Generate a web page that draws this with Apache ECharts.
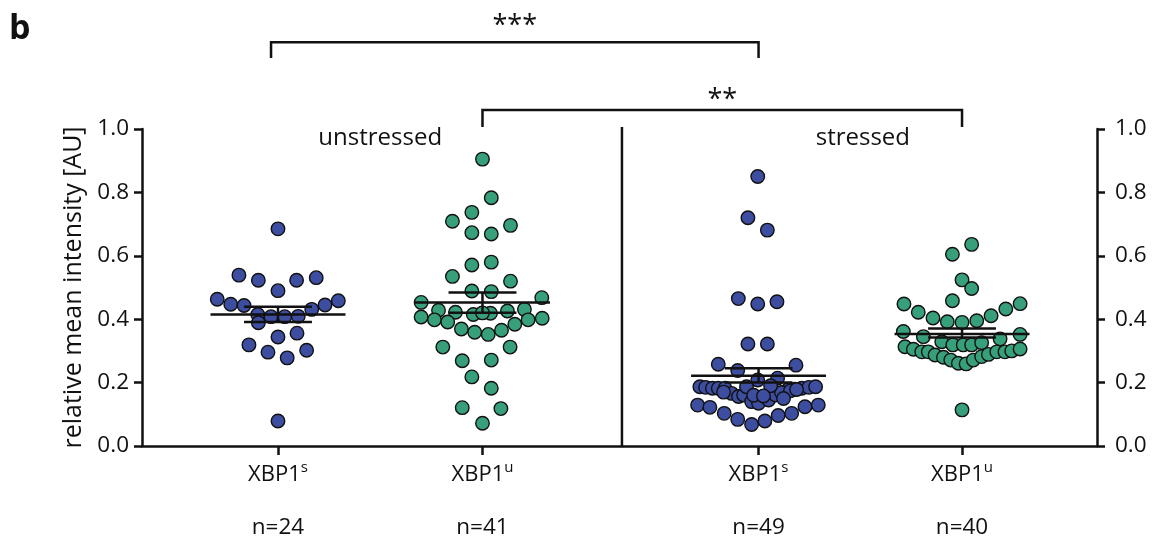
<!DOCTYPE html>
<html><head><meta charset="utf-8">
<script src="https://cdn.jsdelivr.net/npm/echarts@6/dist/echarts.min.js"></script>
<style>html,body{margin:0;padding:0;background:#fff}#c{width:1158px;height:544px}</style>
</head><body><div id="c"></div>
<script>
// ---- data ----
const categories = ['XBP1', 'XBP1', 'XBP1', 'XBP1'];
const superscripts = ['s', 'u', 's', 'u'];
const sampleSizes = ['n=24', 'n=41', 'n=49', 'n=40'];
const conditions = ['unstressed', 'stressed'];
const yTickLabels = ['0.0', '0.2', '0.4', '0.6', '0.8', '1.0'];

// group positions on the x value axis
const groupCenters = [1, 2, 3.35, 4.345];
const conditionCenters = [1.5, 3.86];
const dividerX = 2.682;

// unstressed XBP1s
const g1Offsets = [0, -0.191, -0.096, 0, 0.091, 0.187, -0.297, -0.231, -0.166, 0.165, 0.230, 0.295, -0.099, -0.096, -0.034, 0.033, 0.099, 0, 0.093, -0.142, -0.049, 0.045, 0.140, 0];
const g1Values = [0.685, 0.539, 0.523, 0.490, 0.523, 0.531, 0.463, 0.447, 0.443, 0.431, 0.445, 0.458, 0.415, 0.389, 0.408, 0.408, 0.409, 0.344, 0.356, 0.319, 0.296, 0.278, 0.302, 0.079];

// unstressed XBP1u
const g2Offsets = [0, 0.043, -0.052, -0.147, 0.137, -0.052, 0.043, -0.052, 0.043, -0.147, 0.137, -0.052, 0.043, -0.300, 0.290, -0.215, -0.132, -0.045, 0.039, 0.122, 0.205, -0.300, -0.235, -0.170, -0.103, -0.038, 0.028, 0.093, 0.158, 0.223, 0.292, -0.194, 0.135, -0.099, 0.043, -0.052, 0.043, -0.099, 0.090, 0, 0];
const g2Values = [0.905, 0.783, 0.737, 0.709, 0.696, 0.673, 0.669, 0.571, 0.580, 0.535, 0.520, 0.489, 0.487, 0.453, 0.468, 0.428, 0.422, 0.415, 0.419, 0.426, 0.431, 0.407, 0.398, 0.391, 0.369, 0.359, 0.352, 0.365, 0.384, 0.398, 0.403, 0.312, 0.312, 0.269, 0.271, 0.218, 0.182, 0.121, 0.118, 0.072, 0.420];

// stressed XBP1s
const g3Offsets = [-0.004, -0.052, 0.043, -0.099, -0.004, 0.090, -0.052, 0.043,
  -0.197, 0.183, -0.102, 0.093, -0.004,
  -0.287, -0.259, -0.226, -0.197, -0.164, 0.178, 0.211, 0.246, 0.279, 0.145,
  -0.132, -0.098, -0.073, -0.034, 0, 0.049, 0.083, 0.112, 0.156, -0.059, 0.059, -0.171, 0.186, -0.024, 0.024, 0.122,
  -0.298, -0.238, -0.168, -0.102, -0.034, 0.031, 0.096, 0.162, 0.227, 0.292];
const g3Values = [0.850, 0.720, 0.681, 0.465, 0.448, 0.455, 0.322, 0.322,
  0.258, 0.255, 0.238, 0.214, 0.208,
  0.187, 0.185, 0.182, 0.182, 0.182, 0.179, 0.182, 0.185, 0.187, 0.178,
  0.166, 0.156, 0.161, 0.140, 0.135, 0.145, 0.161, 0.169, 0.174, 0.187, 0.190, 0.170, 0.178, 0.160, 0.158, 0.150,
  0.129, 0.122, 0.103, 0.084, 0.068, 0.079, 0.096, 0.103, 0.124, 0.129];

// stressed XBP1u
const g4Offsets = [0.047, -0.047, 0, 0.047, -0.047, -0.284, 0.284, -0.214, 0.214, -0.142, 0.142, -0.072, 0, 0.072,
  -0.287, -0.189, -0.099, -0.045, 0.006, 0.047, 0.096, 0.186, 0.284,
  -0.279, -0.238, -0.197, -0.165, -0.132, -0.091, -0.055, -0.018, 0.020, 0.055, 0.096, 0.129, 0.170, 0.210, 0.243, 0.284,
  0];
const g4Values = [0.636, 0.605, 0.524, 0.497, 0.458, 0.448, 0.449, 0.422, 0.432, 0.404, 0.411, 0.392, 0.390, 0.395,
  0.361, 0.345, 0.329, 0.319, 0.319, 0.319, 0.326, 0.338, 0.352,
  0.313, 0.305, 0.297, 0.297, 0.287, 0.280, 0.271, 0.261, 0.259, 0.271, 0.282, 0.289, 0.297, 0.297, 0.300, 0.306,
  0.114];

const means = [0.415, 0.453, 0.222, 0.353];
const semLow = [0.391, 0.420, 0.200, 0.342];
const semHigh = [0.439, 0.484, 0.245, 0.371];

// significance annotations
const bracketLeft = [0.966, 2];
const bracketRight = [3.35, 4.345];
const bracketTop = [1.274, 1.060];
const bracketLegEnd = [1.224, 1.006];
const bracketLabels = ['***', '**'];
const bracketLabelY = [1.325, 1.090];

// ---- styling ----
const FONT = 'Open Sans';
const INK = '#111';
const groupColors = ['#3d4d9f', '#37a07b', '#3d4d9f', '#37a07b'];
const meanHalf = 0.33, capHalf = 0.166;

const offsetsList = [g1Offsets, g2Offsets, g3Offsets, g4Offsets];
const valuesList = [g1Values, g2Values, g3Values, g4Values];

const chart = echarts.init(document.getElementById('c'), null, {renderer: 'canvas'});

const yAxisCommon = {
  type: 'value', min: 0, max: 1, interval: 0.2,
  axisLine: {show: true, lineStyle: {color: INK, width: 2.5}},
  axisTick: {show: true, length: 8, lineStyle: {color: INK, width: 2.5}},
  splitLine: {show: false},
  axisLabel: {formatter: (v) => yTickLabels[Math.round(v / 0.2)], fontFamily: FONT, fontSize: 22.5, color: INK, margin: 13}
};

const scatterSeries = offsetsList.map((offs, g) => ({
  type: 'scatter',
  name: categories[g] + superscripts[g],
  data: offs.map((d, i) => [groupCenters[g] + d, valuesList[g][i]]),
  symbol: 'circle', symbolSize: 13.5,
  itemStyle: {color: groupColors[g], borderColor: INK, borderWidth: 1.4, opacity: 1},
  z: 2, silent: true
}));

const summarySeries = {
  type: 'custom', z: 5, silent: true,
  data: groupCenters.map((c, i) => [c, means[i], semLow[i], semHigh[i]]),
  encode: {x: 0, y: [1, 2, 3]},
  renderItem: (params, api) => {
    const c = api.value(0), m = api.value(1), lo = api.value(2), hi = api.value(3);
    const st = {stroke: INK, lineWidth: 2.5};
    const L = (a, b) => ({type: 'line', shape: {x1: a[0], y1: a[1], x2: b[0], y2: b[1]}, style: st});
    return {type: 'group', children: [
      L(api.coord([c - meanHalf, m]), api.coord([c + meanHalf, m])),
      L(api.coord([c, lo]), api.coord([c, hi])),
      L(api.coord([c - capHalf, lo]), api.coord([c + capHalf, lo])),
      L(api.coord([c - capHalf, hi]), api.coord([c + capHalf, hi]))
    ]};
  }
};

const bracketSeries = {
  type: 'custom', z: 6, silent: true, clip: false,
  data: bracketLeft.map((x, i) => [x, bracketTop[i]]),
  encode: {x: 0, y: 1},
  renderItem: (params, api) => {
    const i = params.dataIndex;
    const a = api.coord([bracketLeft[i], bracketLegEnd[i]]);
    const b = api.coord([bracketLeft[i], bracketTop[i]]);
    const c = api.coord([bracketRight[i], bracketTop[i]]);
    const d = api.coord([bracketRight[i], bracketLegEnd[i]]);
    const t = api.coord([(bracketLeft[i] + bracketRight[i]) / 2, bracketLabelY[i]]);
    return {type: 'group', children: [
      {type: 'polyline', shape: {points: [a, b, c, d]}, style: {stroke: INK, lineWidth: 2.5, fill: null}},
      {type: 'text', x: t[0], y: t[1], style: {text: bracketLabels[i], font: '27px "' + FONT + '"', fill: INK, align: 'center', verticalAlign: 'middle'}}
    ]};
  }
};

const labelSeries = {
  type: 'custom', z: 6, silent: true, clip: false,
  data: conditionCenters.map((x) => [x, 0.972]),
  encode: {x: 0, y: 1},
  renderItem: (params, api) => {
    const p = api.coord([api.value(0), api.value(1)]);
    return {type: 'text', x: p[0], y: p[1], style: {text: conditions[params.dataIndex], font: '24px "' + FONT + '"', fill: INK, align: 'center', verticalAlign: 'middle'}};
  }
};

const dividerSeries = {
  type: 'custom', z: 4, silent: true,
  data: [[dividerX, 0]],
  encode: {x: 0, y: 1},
  renderItem: (params, api) => {
    const a = api.coord([api.value(0), 0]);
    const b = api.coord([api.value(0), 1]);
    return {type: 'line', shape: {x1: a[0], y1: a[1], x2: b[0], y2: b[1] - 2}, style: {stroke: INK, lineWidth: 2.5}};
  }
};

chart.setOption({
  animation: false,
  backgroundColor: '#fff',
  textStyle: {fontFamily: FONT},
  graphic: [{type: 'text', left: 9, top: 12, style: {text: 'b', font: 'bold 34px "' + FONT + '"', fill: INK}}],
  grid: {left: 142, right: 61, top: 129, bottom: 98, containLabel: false},
  xAxis: {
    type: 'value', min: 0.335, max: 5.005,
    axisLine: {show: true, onZero: false, lineStyle: {color: INK, width: 2.5}},
    axisTick: {show: true, length: 9, customValues: groupCenters, lineStyle: {color: INK, width: 2.5}},
    splitLine: {show: false},
    axisLabel: {
      customValues: groupCenters, margin: 14,
      formatter: (v) => {
        const i = groupCenters.indexOf(v);
        if (i < 0) return '';
        return '{a|' + categories[i] + '}{s|' + superscripts[i] + '}\n{n|' + sampleSizes[i] + '}';
      },
      rich: {
        a: {fontFamily: FONT, fontSize: 22, color: INK, lineHeight: 30},
        s: {fontFamily: FONT, fontSize: 15, color: INK, lineHeight: 30, verticalAlign: 'top', padding: [0, 0, 10, 0]},
        n: {fontFamily: FONT, fontSize: 22.5, color: INK, lineHeight: 76}
      }
    }
  },
  yAxis: [
    Object.assign({}, yAxisCommon, {
      position: 'left',
      name: 'relative mean intensity [AU]', nameLocation: 'middle', nameGap: 56, nameRotate: 90,
      nameTextStyle: {fontFamily: FONT, fontSize: 25, color: INK}
    }),
    Object.assign({}, yAxisCommon, {position: 'right', axisLabel: Object.assign({}, yAxisCommon.axisLabel, {margin: 18})})
  ],
  series: scatterSeries.concat([summarySeries, dividerSeries, bracketSeries, labelSeries])
});
</script></body></html>
